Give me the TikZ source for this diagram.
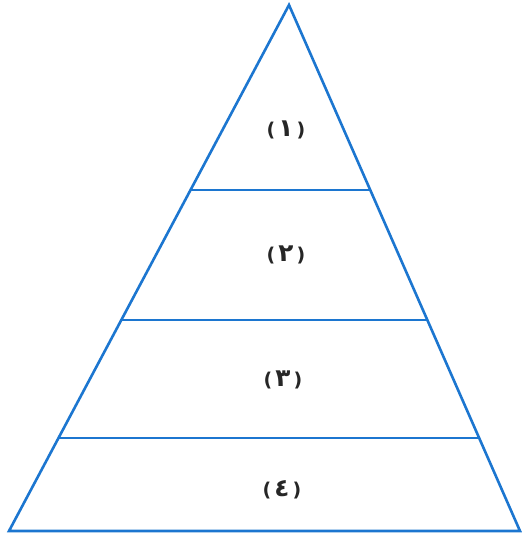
\documentclass[tikz,border=0pt]{standalone}
\usepackage{fontspec}
\setmainfont{DejaVu Sans}
\newfontfamily\arabicfont[Script=Arabic,Scale=1.3]{DejaVu Sans}
\TeXXeTstate=1
\usetikzlibrary{calc}
\definecolor{pyrblue}{RGB}{28,118,208}
\tikzset{
  edge/.style={draw=pyrblue, line width=2.6pt, line join=miter},
  lvl/.style={text=black!85, font=\fontsize{19}{22}\selectfont\bfseries, inner sep=0pt}
}
\newcommand{\ad}[1]{{\arabicfont\beginR #1\endR}}
\begin{document}
\begin{tikzpicture}[x=1pt,y=1pt]
\useasboundingbox (0,0) rectangle (522,536);
\coordinate (apex) at (289,531);
\coordinate (bl) at (9,5);
\coordinate (br) at (520,5);
\draw[edge] (apex) -- (bl) -- (br) -- cycle;
\coordinate (l1) at ($(apex)!0.3517!(bl)$);
\coordinate (r1) at ($(apex)!0.3517!(br)$);
\coordinate (l2) at ($(apex)!0.5989!(bl)$);
\coordinate (r2) at ($(apex)!0.5989!(br)$);
\coordinate (l3) at ($(apex)!0.8232!(bl)$);
\coordinate (r3) at ($(apex)!0.8232!(br)$);
\draw[edge] (l1) -- (r1);
\draw[edge] (l2) -- (r2);
\draw[edge] (l3) -- (r3);
\node[lvl] (n1) at (286,406) {(\,\ad{١}\,)};
\node[lvl] (n2) at (286,281) {(\,\ad{٢}\,)};
\node[lvl] (n3) at (283,156) {(\,\ad{٣}\,)};
\node[lvl] (n4) at (282,46) {(\,\ad{٤}\,)};
\end{tikzpicture}
\end{document}
